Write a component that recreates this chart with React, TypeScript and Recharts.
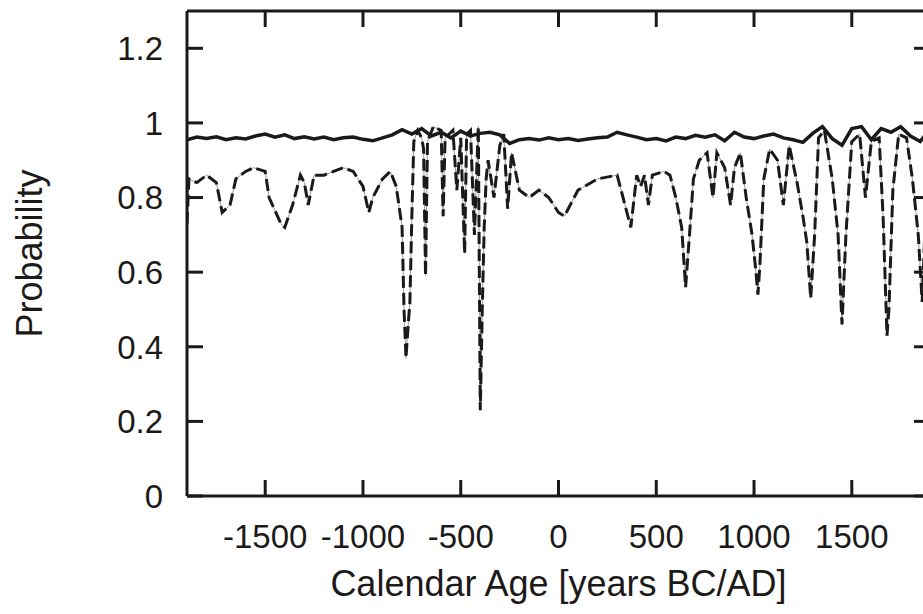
import { LineChart, Line, XAxis, YAxis } from 'recharts';

const xTicks = [-1500, -1000, -500, 0, 500, 1000, 1500];
const yTicks = [0, 0.2, 0.4, 0.6, 0.8, 1, 1.2];

// upper solid curve
const solidYears = [
  -1900, -1850, -1800, -1750, -1700, -1650, -1600, -1550, -1500, -1450, -1400, -1350, -1300,
  -1250, -1200, -1150, -1100, -1050, -1000, -950, -900, -850, -800, -750, -700, -650, -600,
  -550, -500, -450, -400, -350, -300, -250, -200, -150, -100, -50, 0, 50, 100, 150, 200, 250,
  300, 350, 400, 450, 500, 550, 600, 650, 700, 750, 800, 850, 900, 950, 1000, 1050, 1100,
  1150, 1200, 1250, 1300, 1350, 1400, 1450, 1500, 1550, 1600, 1650, 1700, 1750, 1800, 1850, 1900,
];
const solidProb = [
  0.955, 0.962, 0.958, 0.963, 0.955, 0.96, 0.957, 0.965, 0.97, 0.962, 0.968, 0.958, 0.963,
  0.957, 0.962, 0.955, 0.96, 0.962, 0.956, 0.952, 0.96, 0.968, 0.982, 0.97, 0.985, 0.965, 0.975,
  0.96, 0.978, 0.965, 0.972, 0.975, 0.968, 0.945, 0.955, 0.958, 0.954, 0.96, 0.955, 0.958, 0.953,
  0.957, 0.96, 0.962, 0.975, 0.968, 0.962, 0.955, 0.958, 0.952, 0.962, 0.958, 0.967, 0.962,
  0.968, 0.952, 0.975, 0.962, 0.958, 0.965, 0.97, 0.96, 0.955, 0.948, 0.972, 0.99, 0.958, 0.94,
  0.985, 0.99, 0.955, 0.985, 0.975, 0.99, 0.965, 0.95, 0.985,
];

// lower dashed curve with the deep dips
const dashedYears = [
  -1900, -1890, -1850, -1800, -1750, -1720, -1680, -1650, -1600, -1560, -1500, -1480, -1420,
  -1400, -1360, -1320, -1300, -1280, -1250, -1200, -1100, -1050, -1000, -970, -950, -900,
  -860, -830, -800, -790, -780, -770, -760, -750, -740, -720, -700, -690, -680, -670, -640,
  -600, -590, -580, -540, -520, -500, -480, -470, -450, -430, -410, -400, -390, -380, -370,
  -360, -330, -300, -280, -260, -240, -200, -150, -100, -50, 0, 30, 60, 100, 200, 300, 340,
  370, 400, 420, 440, 460, 480, 540, 570, 600, 630, 650, 670, 690, 720, 760, 790, 810, 850,
  880, 900, 930, 960, 990, 1010, 1020, 1030, 1050, 1080, 1120, 1150, 1180, 1220, 1250, 1270,
  1290, 1310, 1330, 1360, 1400, 1430, 1450, 1470, 1500, 1540, 1570, 1600, 1640, 1660, 1680,
  1690, 1710, 1740, 1780, 1810, 1840, 1860, 1880, 1900,
];
const dashedProb = [
  0.73, 0.85, 0.84, 0.86, 0.84, 0.76, 0.78, 0.85, 0.87, 0.88, 0.87, 0.8, 0.73,
  0.72, 0.78, 0.86, 0.84, 0.78, 0.86, 0.86, 0.88, 0.87, 0.83, 0.76, 0.8, 0.85,
  0.87, 0.83, 0.72, 0.5, 0.37, 0.45, 0.52, 0.75, 0.95, 0.98, 0.96, 0.93, 0.59, 0.95, 0.99,
  0.98, 0.75, 0.96, 0.98, 0.82, 0.96, 0.65, 0.97, 0.98, 0.7, 0.99, 0.23, 0.5, 0.72, 0.85,
  0.9, 0.8, 0.94, 0.97, 0.77, 0.92, 0.82, 0.8, 0.82, 0.8, 0.76, 0.75, 0.78, 0.82, 0.85, 0.86, 0.78,
  0.72, 0.86, 0.83, 0.86, 0.78, 0.86, 0.87, 0.86, 0.8, 0.72, 0.56, 0.7, 0.85, 0.9, 0.92, 0.8, 0.92, 0.88,
  0.78, 0.88, 0.92, 0.8, 0.7, 0.6, 0.54, 0.62, 0.85, 0.93, 0.9, 0.78, 0.94, 0.84, 0.75, 0.68,
  0.53, 0.7, 0.96, 0.98, 0.85, 0.7, 0.46, 0.7, 0.95, 0.97, 0.8, 0.95, 0.96, 0.75, 0.43,
  0.5, 0.82, 0.97, 0.96, 0.85, 0.7, 0.52, 0.8, 0.97,
];

const solidData = solidYears.map((year, i) => ({ year, p: solidProb[i] }));
const dashedData = dashedYears.map((year, i) => ({ year, p: dashedProb[i] }));

const INK = '#1c1a19';
const FONT = '"Liberation Sans", Arial, sans-serif';
const X_DOMAIN = [-1900, 1900];
const Y_DOMAIN = [0, 1.3];

function BottomLabel({ x, y, payload }: any) {
  return (
    <text x={x} y={y + 52} textAnchor="middle" fill={INK} fontSize={33} fontFamily={FONT}>
      {payload.value}
    </text>
  );
}

function LeftLabel({ x, y, payload }: any) {
  return (
    <text x={x - 24} y={y} dy="0.36em" textAnchor="end" fill={INK} fontSize={33} fontFamily={FONT}>
      {payload.value}
    </text>
  );
}

function XTitle({ viewBox }: any) {
  return (
    <text x={viewBox.x + viewBox.width / 2} y={viewBox.y + 100} textAnchor="middle" fill={INK} fontSize={36} fontFamily={FONT}>
      Calendar Age [years BC/AD]
    </text>
  );
}

function YTitle({ viewBox }: any) {
  const x = viewBox.x + 42;
  const y = viewBox.y + viewBox.height / 2;
  return (
    <text x={x} y={y} transform={`rotate(-90, ${x}, ${y})`} textAnchor="middle" fill={INK} fontSize={36} fontFamily={FONT}>
      Probability
    </text>
  );
}

// empty label so only the inward tick marks are drawn
const hiddenTick = { fill: 'none', fontSize: 1 };
const noText = () => '';

export default function App() {
  const axisLine = { stroke: INK, strokeWidth: 3 };
  const tickLine = { stroke: INK, strokeWidth: 3 };
  return (
    <div style={{ position: 'absolute', left: 0, top: 0, width: 923, height: 614, overflow: 'hidden', background: '#fff' }}>
      <LineChart width={945} height={614} margin={{ top: 11, right: 15, bottom: 0, left: 0 }}>
        {/* bottom axis with labels */}
        <XAxis
          xAxisId="b"
          dataKey="year"
          type="number"
          domain={X_DOMAIN}
          ticks={xTicks}
          allowDataOverflow
          height={118}
          axisLine={axisLine}
          tickLine={false}
          tickSize={0}
          tickMargin={0}
          tick={<BottomLabel />}
          label={<XTitle />}
        />
        {/* inward tick marks, bottom */}
        <XAxis
          xAxisId="bm"
          orientation="bottom"
          mirror
          dataKey="year"
          type="number"
          domain={X_DOMAIN}
          ticks={xTicks}
          allowDataOverflow
          height={1}
          axisLine={false}
          tickLine={tickLine}
          tickSize={16}
          tick={hiddenTick}
          tickFormatter={noText}
        />
        {/* top frame */}
        <XAxis
          xAxisId="t"
          orientation="top"
          mirror
          dataKey="year"
          type="number"
          domain={X_DOMAIN}
          ticks={xTicks}
          allowDataOverflow
          height={1}
          axisLine={axisLine}
          tickLine={tickLine}
          tickSize={16}
          tick={hiddenTick}
          tickFormatter={noText}
        />
        <YAxis
          yAxisId="l"
          type="number"
          domain={Y_DOMAIN}
          ticks={yTicks}
          allowDataOverflow
          width={187}
          axisLine={axisLine}
          tickLine={false}
          tickSize={0}
          tickMargin={0}
          tick={<LeftLabel />}
          label={<YTitle />}
        />
        <YAxis
          yAxisId="lm"
          orientation="left"
          mirror
          type="number"
          domain={Y_DOMAIN}
          ticks={yTicks}
          allowDataOverflow
          width={1}
          axisLine={false}
          tickLine={tickLine}
          tickSize={16}
          tick={hiddenTick}
          tickFormatter={noText}
        />
        {/* right frame */}
        <YAxis
          yAxisId="r"
          orientation="right"
          mirror
          type="number"
          domain={Y_DOMAIN}
          ticks={yTicks}
          allowDataOverflow
          width={1}
          axisLine={axisLine}
          tickLine={tickLine}
          tickSize={16}
          tick={hiddenTick}
          tickFormatter={noText}
        />
        <Line
          xAxisId="t"
          yAxisId="r"
          data={dashedData}
          dataKey="p"
          type="linear"
          stroke="#9a9a9a"
          strokeWidth={1}
          dot={false}
          isAnimationActive={false}
        />
        <Line
          xAxisId="b"
          yAxisId="l"
          data={dashedData}
          dataKey="p"
          type="linear"
          stroke={INK}
          strokeWidth={3}
          strokeDasharray="12 5"
          dot={false}
          isAnimationActive={false}
        />
        <Line
          xAxisId="bm"
          yAxisId="lm"
          data={solidData}
          dataKey="p"
          type="linear"
          stroke={INK}
          strokeWidth={3.5}
          dot={false}
          isAnimationActive={false}
        />
      </LineChart>
    </div>
  );
}
